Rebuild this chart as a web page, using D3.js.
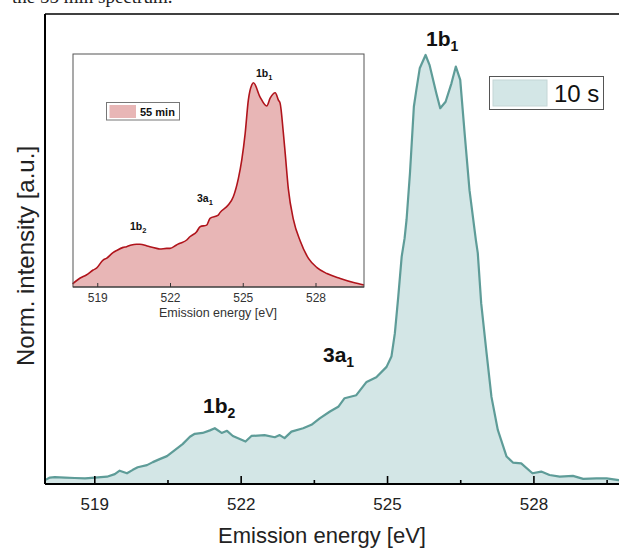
<!DOCTYPE html>
<html>
<head>
<meta charset="utf-8">
<script src="https://cdn.jsdelivr.net/npm/d3@7"></script>
<style>
  html, body { margin: 0; padding: 0; background: #fff; }
  svg { display: block; }
</style>
</head>
<body>
<svg id="chart" width="619" height="551"></svg>
<script>
// ---- Data: 10 s spectrum (main panel) ----
const energy10s = [517.99, 518.09, 518.19, 518.40, 518.60, 518.81, 519.01, 519.26, 519.42, 519.52,
  519.67, 519.79, 519.89, 520.08, 520.20, 520.34, 520.49, 520.65, 520.81, 520.96,
  521.06, 521.22, 521.37, 521.47, 521.61, 521.72, 521.84, 522.10, 522.22, 522.49,
  522.70, 522.80, 522.90, 523.04, 523.28, 523.45, 523.62, 523.83, 524.00, 524.13,
  524.37, 524.58, 524.78, 524.99, 525.09, 525.16, 525.23, 525.30, 525.36, 525.40,
  525.47, 525.55, 525.60, 525.67, 525.79, 525.87, 526.01, 526.09, 526.20, 526.32,
  526.41, 526.50, 526.59, 526.69, 526.82, 526.86, 526.93, 527.04, 527.14, 527.27,
  527.45, 527.58, 527.75, 527.98, 528.16, 528.33, 528.54, 528.81, 529.02, 529.29,
  529.50, 529.75, 530.00];
const intensity10s = [0.009, 0.015, 0.016, 0.015, 0.014, 0.013, 0.015, 0.017, 0.023, 0.031,
  0.025, 0.033, 0.039, 0.044, 0.051, 0.058, 0.065, 0.079, 0.093, 0.110,
  0.117, 0.119, 0.125, 0.130, 0.119, 0.124, 0.112, 0.099, 0.112, 0.114,
  0.109, 0.114, 0.107, 0.122, 0.130, 0.138, 0.153, 0.169, 0.180, 0.200,
  0.207, 0.238, 0.249, 0.273, 0.297, 0.351, 0.437, 0.530, 0.573, 0.616,
  0.725, 0.880, 0.918, 0.969, 1.000, 0.977, 0.911, 0.876, 0.891, 0.934,
  0.973, 0.942, 0.818, 0.685, 0.569, 0.538, 0.421, 0.305, 0.203, 0.126,
  0.064, 0.050, 0.048, 0.025, 0.029, 0.021, 0.017, 0.019, 0.012, 0.013,
  0.013, 0.009, 0.010];

// ---- Data: 55 min spectrum (inset) ----
const energy55 = [517.98, 518.28, 518.55, 518.83, 518.97, 519.24, 519.38, 519.65, 519.79, 520.07,
  520.21, 520.41, 520.62, 520.76, 521.03, 521.17, 521.45, 521.58, 521.86, 522.00,
  522.27, 522.41, 522.69, 522.82, 523.10, 523.24, 523.51, 523.65, 523.99, 524.06,
  524.40, 524.61, 524.82, 524.96, 525.10, 525.23, 525.37, 525.44, 525.71, 525.99,
  526.13, 526.34, 526.47, 526.54, 526.67, 526.75, 526.88, 527.09, 527.37, 527.71,
  528.06, 528.47, 529.02, 529.57, 530.00];
const intensity55 = [0.015, 0.043, 0.059, 0.083, 0.092, 0.132, 0.140, 0.168, 0.178, 0.194,
  0.197, 0.206, 0.209, 0.209, 0.202, 0.197, 0.189, 0.186, 0.189, 0.189,
  0.206, 0.214, 0.230, 0.246, 0.271, 0.295, 0.303, 0.336, 0.352, 0.364,
  0.401, 0.442, 0.532, 0.622, 0.752, 0.915, 0.989, 1.000, 0.931, 0.886,
  0.924, 0.951, 0.915, 0.900, 0.760, 0.655, 0.480, 0.330, 0.225, 0.140,
  0.095, 0.066, 0.042, 0.022, 0.010];

// ---- Ticks and labels ----
const majorTicks = [519, 522, 525, 528];
const minorTicks = [520.5, 523.5, 526.5, 529.5];
const xTitle = "Emission energy [eV]";
const yTitle = "Norm. intensity [a.u.]";
const mainLegend = "10 s";
const insetLegend = "55 min";
const peakLabels = [
  { base: "1b", sub: "1" },
  { base: "3a", sub: "1" },
  { base: "1b", sub: "2" }
];

const svg = d3.select("#chart");
const font = "Arial, 'Liberation Sans', Helvetica, sans-serif";

// cut-off caption from the page above
svg.append("text").attr("x", 12).attr("y", 3)
  .attr("font-family", "'Liberation Serif', 'DejaVu Serif', serif")
  .attr("font-size", 19).attr("fill", "#222")
  .text("the 55 min spectrum.");

// ---- Main panel ----
const x = d3.scaleLinear().domain([518, 530]).range([45.5, 631]);
const y = d3.scaleLinear().domain([0, 1]).range([484, 55]);
const main = energy10s.map((e, i) => ({ e, v: intensity10s[i] }));

svg.append("path").datum(main)
  .attr("fill", "#d3e6e6")
  .attr("d", d3.area().x(d => x(d.e)).y0(y(0)).y1(d => y(d.v)));
svg.append("path").datum(main)
  .attr("fill", "none").attr("stroke", "#5e9c98").attr("stroke-width", 2.2)
  .attr("stroke-linejoin", "round")
  .attr("d", d3.line().x(d => x(d.e)).y(d => y(d.v)));

// frame
svg.append("line").attr("x1", 45).attr("x2", 45).attr("y1", 14).attr("y2", 484)
  .attr("stroke", "#000").attr("stroke-width", 2);
svg.append("line").attr("x1", 45).attr("x2", 631).attr("y1", 14).attr("y2", 14)
  .attr("stroke", "#000").attr("stroke-width", 1.5);

// x axis
const gx = svg.append("g").attr("transform", `translate(0,${y(0)})`);
gx.call(d3.axisBottom(x).tickValues(majorTicks).tickSize(-8).tickPadding(0)
  .tickFormat(d3.format("d")));
gx.select(".domain").attr("stroke-width", 2).attr("d", `M45,0H631`);
gx.selectAll(".tick line").attr("stroke-width", 1.6);
gx.selectAll(".tick text").attr("font-family", font).attr("font-size", 17)
  .attr("fill", "#222").attr("y", 14).attr("dy", "0.71em");
const gxm = svg.append("g").attr("transform", `translate(0,${y(0)})`);
gxm.call(d3.axisBottom(x).tickValues(minorTicks).tickSize(-4).tickFormat(""));
gxm.select(".domain").remove();
gxm.selectAll(".tick line").attr("stroke-width", 1.6);

svg.append("text").attr("x", 322).attr("y", 543)
  .attr("text-anchor", "middle").attr("font-family", font).attr("font-size", 22)
  .attr("fill", "#222").text(xTitle);
svg.append("text").attr("transform", "translate(34,256) rotate(-90)")
  .attr("text-anchor", "middle").attr("font-family", font).attr("font-size", 24)
  .attr("fill", "#222").text(yTitle);

// main peak labels
const mainLabelPos = [[426, 46], [323, 362], [203, 413]];
peakLabels.forEach((p, i) => {
  const t = svg.append("text").attr("x", mainLabelPos[i][0]).attr("y", mainLabelPos[i][1])
    .attr("font-family", font).attr("font-size", 21).attr("font-weight", "bold").attr("fill", "#111");
  t.append("tspan").text(p.base);
  t.append("tspan").attr("font-size", 14).attr("dy", 5).text(p.sub);
});

// main legend
svg.append("rect").attr("x", 489.5).attr("y", 76.5).attr("width", 114).attr("height", 33)
  .attr("fill", "#fff").attr("stroke", "#555").attr("stroke-width", 1);
svg.append("rect").attr("x", 493).attr("y", 80).attr("width", 54).attr("height", 26)
  .attr("fill", "#d3e6e6").attr("stroke", "#c4d6d6").attr("stroke-width", 1);
svg.append("text").attr("x", 554).attr("y", 102).attr("font-family", font)
  .attr("font-size", 24).attr("fill", "#111").text(mainLegend);

// ---- Inset ----
const ix0 = 73, ix1 = 364, iy0 = 54, iy1 = 287;
const xi = d3.scaleLinear().domain([518, 530]).range([ix0, ix1]);
const yi = d3.scaleLinear().domain([0, 1]).range([iy1, 82.7]);
const inset = energy55.map((e, i) => ({ e, v: intensity55[i] }));

svg.append("rect").attr("x", ix0).attr("y", iy0).attr("width", ix1 - ix0).attr("height", iy1 - iy0)
  .attr("fill", "#fff");
svg.append("path").datum(inset)
  .attr("fill", "#e8b6b6")
  .attr("d", d3.area().curve(d3.curveMonotoneX).x(d => xi(d.e)).y0(iy1).y1(d => yi(d.v)));
svg.append("path").datum(inset)
  .attr("fill", "none").attr("stroke", "#b0141c").attr("stroke-width", 1.6)
  .attr("d", d3.line().curve(d3.curveMonotoneX).x(d => xi(d.e)).y(d => yi(d.v)));
svg.append("rect").attr("x", ix0).attr("y", iy0).attr("width", ix1 - ix0).attr("height", iy1 - iy0)
  .attr("fill", "none").attr("stroke", "#555").attr("stroke-width", 1);

const gi = svg.append("g").attr("transform", `translate(0,${iy1})`);
gi.call(d3.axisBottom(xi).tickValues(majorTicks).tickSize(-4).tickPadding(0)
  .tickFormat(d3.format("d")));
gi.select(".domain").attr("stroke", "#333").attr("d", `M${ix0},0H${ix1}`);
gi.selectAll(".tick line").attr("stroke", "#333");
gi.selectAll(".tick text").attr("font-family", font).attr("font-size", 12)
  .attr("fill", "#333").attr("y", 6).attr("dy", "0.71em");
svg.append("text").attr("x", 218).attr("y", 317).attr("text-anchor", "middle")
  .attr("font-family", font).attr("font-size", 12.5).attr("fill", "#333").text(xTitle);

const insetLabelPos = [[256, 77], [197, 202], [130, 230]];
peakLabels.forEach((p, i) => {
  const t = svg.append("text").attr("x", insetLabelPos[i][0]).attr("y", insetLabelPos[i][1])
    .attr("font-family", font).attr("font-size", 10.5).attr("font-weight", "bold").attr("fill", "#111");
  t.append("tspan").text(p.base);
  t.append("tspan").attr("font-size", 7.5).attr("dy", 3).text(p.sub);
});

// inset legend
svg.append("rect").attr("x", 106.5).attr("y", 102.5).attr("width", 73).attr("height", 17.5)
  .attr("fill", "#fff").attr("stroke", "#777").attr("stroke-width", 1);
svg.append("rect").attr("x", 109.5).attr("y", 105).attr("width", 26.5).attr("height", 13)
  .attr("fill", "#e8b6b6");
svg.append("text").attr("x", 140).attr("y", 115.5).attr("font-family", font)
  .attr("font-size", 11).attr("font-weight", "bold").attr("fill", "#111").text(insetLegend);
</script>
</body>
</html>
